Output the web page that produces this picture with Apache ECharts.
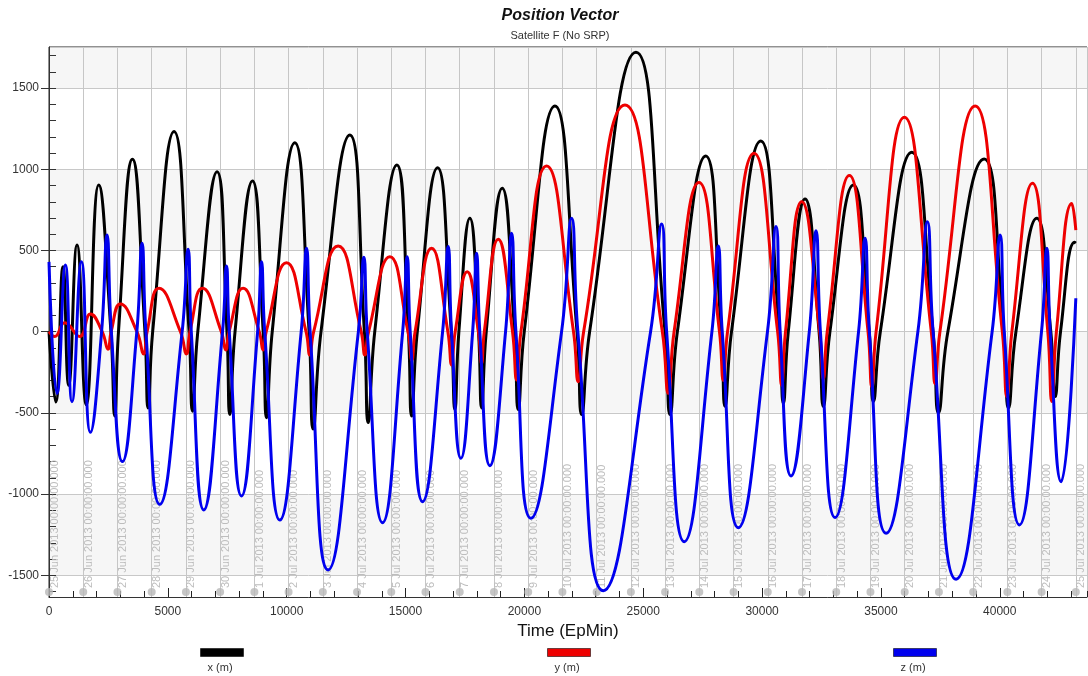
<!DOCTYPE html>
<html>
<head>
<meta charset="utf-8">
<title>Position Vector</title>
<script src="https://cdn.jsdelivr.net/npm/echarts@6/dist/echarts.min.js"></script>
<style>
  html, body { margin: 0; padding: 0; background: #ffffff; }
  #chart { width: 1088px; height: 676px; }
</style>
</head>
<body>
<div id="chart"></div>
<script>
// Position difference components, [epoch minutes, metres]
const posX = [
  [0, 0], [282, -433], [589, 400], [829, -330], [1179, 534], [1566, -450], [2092, 903],
  [2605, 0], [2765, -520], [2924, 0], [3510, 1062],
  [4036, 0], [4167, -470], [4362, 0], [5261, 1232],
  [5893, 0], [6036, -490], [6260, 0], [7071, 985],
  [7487, 0], [7606, -510], [7827, 0], [8561, 928],
  [9010, 0], [9150, -530], [9392, 0], [10342, 1164],
  [10942, 0], [11112, -600], [11444, 0], [12657, 1211],
  [13269, 0], [13427, -560], [13705, 0], [14635, 1027],
  [15119, 0], [15254, -520], [15496, 0], [16348, 1010],
  [16924, 0], [17076, -480], [17244, 0], [17707, 698],
  [18070, 0], [18200, -470], [18396, 0], [19067, 883],
  [19586, 0], [19740, -480], [19995, 0], [21285, 1390],
  [22215, 0], [22409, -510], [22745, 0], [24695, 1721],
  [25916, 0], [26126, -510], [26437, 0], [27628, 1082],
  [28284, 0], [28441, -460], [28714, 0], [29943, 1174],
  [30727, 0], [30895, -440], [31103, 0], [31808, 817],
  [32398, 0], [32578, -460], [32855, 0], [33843, 903],
  [34507, 0], [34683, -430], [34975, 0], [36299, 1105],
  [37193, 0], [37419, -500], [37817, 0], [39341, 1063],
  [40161, 0], [40365, -470], [40680, 0], [41560, 698],
  [42148, 0], [42330, -400], [42557, 0], [43150, 550], [43200, 545]
];
const posY = [
  [0, 0], [240, -30], [661, 55], [1292, -30], [1743, 109],
  [2237, 0], [2483, -108], [2615, 0], [3005, 171],
  [3699, 0], [3986, -137], [4128, 0], [4630, 267],
  [5529, 0], [5783, -137], [5931, 0], [6457, 267],
  [7249, 0], [7437, -113], [7577, 0], [8165, 267],
  [8845, 0], [9007, -113], [9140, 0], [9992, 425],
  [10814, 0], [10973, -143], [11136, 0], [12164, 528],
  [13134, 0], [13288, -143], [13448, 0], [14340, 462],
  [15102, 0], [15266, -175], [15402, 0], [16095, 513],
  [16781, 0], [16937, -205], [17089, 0], [17594, 369],
  [18064, 0], [18200, -195], [18314, 0], [18898, 569],
  [19500, 0], [19673, -297], [19856, 0], [20935, 1020],
  [22067, 0], [22265, -308], [22493, 0], [24231, 1396],
  [25804, 0], [26054, -380], [26298, 0], [27346, 918],
  [28207, 0], [28369, -300], [28547, 0], [29661, 1098],
  [30654, 0], [30827, -330], [30986, 0], [31669, 800],
  [32423, 0], [32578, -290], [32741, 0], [33673, 961],
  [34458, 0], [34617, -340], [34797, 0], [35988, 1320],
  [37118, 0], [37280, -320], [37482, 0], [38964, 1390],
  [40107, 0], [40298, -400], [40510, 0], [41375, 914],
  [42021, 0], [42190, -430], [42383, 0], [43032, 790], [43200, 625]
];
const posZ = [
  [0, 430], [337, -380], [690, 411], [968, -431], [1364, 431], [1743, -620],
  [2213, 0], [2441, 595], [2623, 0], [3089, -800],
  [3695, 0], [3914, 544], [4078, 0], [4659, -1063],
  [5602, 0], [5851, 507], [5986, 0], [6511, -1098],
  [7302, 0], [7467, 404], [7583, 0], [8098, -1012],
  [8777, 0], [8940, 431], [9075, 0], [9710, -1160],
  [10610, 0], [10834, 513], [10986, 0], [11743, -1467],
  [13016, 0], [13246, 458], [13388, 0], [14033, -1176],
  [14880, 0], [15068, 462], [15196, 0], [15716, -1047],
  [16560, 0], [16794, 524], [16935, 0], [17329, -780],
  [17824, 0], [17989, 483], [18124, 0], [18549, -825],
  [19208, 0], [19462, 606], [19644, 0], [20275, -1149],
  [21565, 0], [21988, 698], [22250, 0], [23318, -1595],
  [25309, 0], [25776, 663], [25985, 0], [26727, -1293],
  [27890, 0], [28158, 528], [28324, 0], [29000, -1207],
  [30227, 0], [30587, 647], [30762, 0], [31218, -889],
  [31987, 0], [32271, 622], [32454, 0], [33070, -1145],
  [34059, 0], [34333, 575], [34514, 0], [35217, -1241],
  [36555, 0], [36955, 677], [37195, 0], [38163, -1525],
  [39679, 0], [40014, 595], [40190, 0], [40827, -1190],
  [41756, 0], [41981, 513], [42121, 0], [42583, -924], [43200, 206]
];

const seriesNames = ['x (m)', 'y (m)', 'z (m)'];
const seriesColors = ['#000000', '#ee0000', '#0000ee'];

// Day boundaries (epoch minutes) and their date labels
const dateLabels = [
  '25 Jun 2013 00:00:00.000', '26 Jun 2013 00:00:00.000', '27 Jun 2013 00:00:00.000',
  '28 Jun 2013 00:00:00.000', '29 Jun 2013 00:00:00.000', '30 Jun 2013 00:00:00.000',
  '1 Jul 2013 00:00:00.000', '2 Jul 2013 00:00:00.000', '3 Jul 2013 00:00:00.000',
  '4 Jul 2013 00:00:00.000', '5 Jul 2013 00:00:00.000', '6 Jul 2013 00:00:00.000',
  '7 Jul 2013 00:00:00.000', '8 Jul 2013 00:00:00.000', '9 Jul 2013 00:00:00.000',
  '10 Jul 2013 00:00:00.000', '11 Jul 2013 00:00:00.000', '12 Jul 2013 00:00:00.000',
  '13 Jul 2013 00:00:00.000', '14 Jul 2013 00:00:00.000', '15 Jul 2013 00:00:00.000',
  '16 Jul 2013 00:00:00.000', '17 Jul 2013 00:00:00.000', '18 Jul 2013 00:00:00.000',
  '19 Jul 2013 00:00:00.000', '20 Jul 2013 00:00:00.000', '21 Jul 2013 00:00:00.000',
  '22 Jul 2013 00:00:00.000', '23 Jul 2013 00:00:00.000', '24 Jul 2013 00:00:00.000',
  '25 Jul 2013 00:00:00.000'
];
const MIN_PER_DAY = 1440;
const dayTicks = dateLabels.map((_, i) => i * MIN_PER_DAY);

// Minor y ticks every 100 m
const yMinorTicks = [];
for (let v = -1600; v <= 1700; v += 100) yMinorTicks.push(v);

const X_MAX = 43670;
const Y_MIN = -1634;
const Y_MAX = 1753;
const FONT = '"Liberation Sans", Arial, sans-serif';
const plainNumber = v => String(v);

const chart = echarts.init(document.getElementById('chart'), null, { renderer: 'canvas' });

const lineSeries = [posX, posY, posZ].map((data, i) => ({
  name: seriesNames[i],
  type: 'line',
  xAxisIndex: 0,
  yAxisIndex: 0,
  data: data,
  smooth: true,
  showSymbol: false,
  symbol: 'none',
  color: seriesColors[i],
  lineStyle: { color: seriesColors[i], width: 3 },
  z: 3 + i
}));

const legendCommon = {
  orient: 'horizontal',
  top: 630,
  padding: 0,
  icon: 'rect',
  itemWidth: 43,
  itemHeight: 8,
  itemStyle: { borderColor: 'rgba(0,0,0,0.55)', borderWidth: 1 },
  formatter: name => '\n\n' + name,
  textStyle: { fontFamily: FONT, fontSize: 11, color: '#333', lineHeight: 15, padding: [0, 41, 0, -41] },
  selectedMode: false
};

chart.setOption({
  animation: false,
  backgroundColor: '#ffffff',
  textStyle: { fontFamily: FONT },
  title: {
    text: 'Position Vector',
    subtext: 'Satellite F (No SRP)',
    left: 560,
    textAlign: 'center',
    top: 8,
    padding: 0,
    itemGap: 6,
    textStyle: { fontFamily: FONT, fontSize: 16, fontWeight: 'bold', fontStyle: 'italic', color: '#111' },
    subtextStyle: { fontFamily: FONT, fontSize: 11, color: '#333' }
  },
  legend: [
    Object.assign({ data: [seriesNames[0]], left: 200 }, legendCommon),
    Object.assign({ data: [seriesNames[1]], left: 547 }, legendCommon),
    Object.assign({ data: [seriesNames[2]], left: 893 }, legendCommon)
  ],
  grid: {
    left: 49, top: 47, width: 1038, height: 550,
    show: true, borderColor: '#222', borderWidth: 1, backgroundColor: 'transparent'
  },
  xAxis: [
    {
      type: 'value', position: 'bottom', min: 0, max: X_MAX, interval: 5000,
      axisLine: { show: true, onZero: false, lineStyle: { color: '#333' } },
      axisTick: { show: true, inside: true, length: 9, lineStyle: { color: '#222' } },
      axisLabel: { showMaxLabel: false, fontSize: 12, color: '#333', margin: 9, formatter: plainNumber },
      splitLine: { show: false },
      name: 'Time (EpMin)', nameLocation: 'middle', nameGap: 24,
      nameTextStyle: { fontSize: 17, color: '#111', fontFamily: FONT }
    },
    {
      type: 'value', position: 'bottom', min: 0, max: X_MAX, interval: 1000,
      axisLine: { show: false, onZero: false },
      axisTick: { show: true, inside: true, length: 6, lineStyle: { color: '#222' } },
      axisLabel: { show: false },
      splitLine: { show: false }
    },
    {
      type: 'value', position: 'bottom', min: 0, max: X_MAX, interval: MIN_PER_DAY,
      axisLine: { show: false, onZero: false },
      axisTick: { show: false },
      axisLabel: {
        inside: true, rotate: 90, margin: 9, verticalAlign: 'top',
        color: '#bdbdbd', fontSize: 11,
        customValues: dayTicks,
        formatter: v => dateLabels[Math.round(v / MIN_PER_DAY)] || ''
      },
      splitLine: { show: true, lineStyle: { color: '#c6c6c6', width: 1 } }
    }
  ],
  yAxis: [
    {
      type: 'value', position: 'left', min: Y_MIN, max: Y_MAX, splitNumber: 5,
      axisLine: { show: true, onZero: false, lineStyle: { color: '#333' } },
      axisTick: { show: true, inside: false, length: 8, lineStyle: { color: '#333' } },
      axisLabel: { showMinLabel: false, showMaxLabel: false, fontSize: 12, color: '#333', margin: 10, formatter: plainNumber },
      splitLine: { show: true, lineStyle: { color: '#c8c8c8', width: 1 } },
      splitArea: { show: true, areaStyle: { color: ['#ffffff', '#f6f6f6'] } }
    },
    {
      type: 'value', position: 'left', min: Y_MIN, max: Y_MAX,
      axisLine: { show: false, onZero: false },
      axisTick: { show: true, inside: true, length: 7, customValues: yMinorTicks, lineStyle: { color: '#333' } },
      axisLabel: { show: false },
      splitLine: { show: false }
    }
  ],
  series: lineSeries.concat([{
    name: 'days',
    type: 'scatter',
    xAxisIndex: 2,
    yAxisIndex: 0,
    data: dayTicks.map(t => [t, Y_MIN]),
    symbol: 'circle',
    symbolSize: 8,
    symbolOffset: [0, -5],
    itemStyle: { color: '#b8b8b8' },
    clip: false,
    silent: true,
    z: 1
  }])
});
</script>
</body>
</html>
